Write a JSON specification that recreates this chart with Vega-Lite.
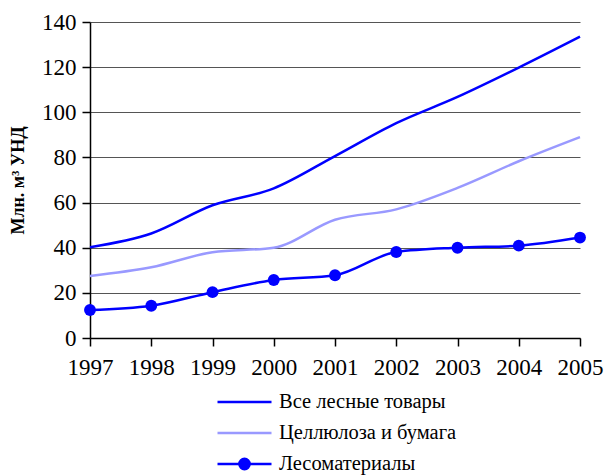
{
  "$schema": "https://vega.github.io/schema/vega-lite/v6.json",
  "autosize": "none",
  "width": 490,
  "height": 316,
  "padding": {"left": 90, "top": 22, "right": 24, "bottom": 138},
  "background": "white",
  "config": {
    "font": "Liberation Serif",
    "view": {"stroke": null}
  },
  "data": {
    "values": [
      {"year": 1997, "series": "Все лесные товары", "value": 40.2},
      {"year": 1998, "series": "Все лесные товары", "value": 46.3},
      {"year": 1999, "series": "Все лесные товары", "value": 58.8},
      {"year": 2000, "series": "Все лесные товары", "value": 66.3},
      {"year": 2001, "series": "Все лесные товары", "value": 80.6},
      {"year": 2002, "series": "Все лесные товары", "value": 95.2},
      {"year": 2003, "series": "Все лесные товары", "value": 106.8},
      {"year": 2004, "series": "Все лесные товары", "value": 119.8},
      {"year": 2005, "series": "Все лесные товары", "value": 133.5},
      {"year": 1997, "series": "Целлюлоза и бумага", "value": 27.5},
      {"year": 1998, "series": "Целлюлоза и бумага", "value": 31.3},
      {"year": 1999, "series": "Целлюлоза и бумага", "value": 38.0},
      {"year": 2000, "series": "Целлюлоза и бумага", "value": 40.0},
      {"year": 2001, "series": "Целлюлоза и бумага", "value": 52.4},
      {"year": 2002, "series": "Целлюлоза и бумага", "value": 57.0},
      {"year": 2003, "series": "Целлюлоза и бумага", "value": 66.5},
      {"year": 2004, "series": "Целлюлоза и бумага", "value": 78.3},
      {"year": 2005, "series": "Целлюлоза и бумага", "value": 89.0},
      {"year": 1997, "series": "Лесоматериалы", "value": 12.4},
      {"year": 1998, "series": "Лесоматериалы", "value": 14.3},
      {"year": 1999, "series": "Лесоматериалы", "value": 20.3},
      {"year": 2000, "series": "Лесоматериалы", "value": 25.7},
      {"year": 2001, "series": "Лесоматериалы", "value": 27.8},
      {"year": 2002, "series": "Лесоматериалы", "value": 38.1},
      {"year": 2003, "series": "Лесоматериалы", "value": 40.0},
      {"year": 2004, "series": "Лесоматериалы", "value": 40.9},
      {"year": 2005, "series": "Лесоматериалы", "value": 44.5}
    ]
  },
  "encoding": {
    "x": {
      "field": "year", "type": "quantitative",
      "scale": {"domain": [1997, 2005], "nice": false, "zero": false},
      "axis": {
        "title": null, "values": [1997, 1998, 1999, 2000, 2001, 2002, 2003, 2004, 2005],
        "format": "d", "grid": false, "labelFontSize": 23, "labelPadding": 10,
        "labelFont": "Liberation Serif", "labelColor": "black",
        "labelOverlap": false, "labelFlush": false,
        "domainColor": "black", "domainWidth": 1.5, "tickColor": "black", "tickWidth": 1.5, "tickSize": 8
      }
    },
    "y": {
      "field": "value", "type": "quantitative",
      "scale": {"domain": [0, 140], "nice": false},
      "axis": {
        "title": "Млн. м³ УНД", "titleFontSize": 18, "titleFontWeight": "bold", "titlePadding": 14,
        "titleFont": "Liberation Serif", "titleColor": "black",
        "labelFont": "Liberation Serif", "labelColor": "black",
        "values": [0, 20, 40, 60, 80, 100, 120, 140], "labelFontSize": 23, "labelPadding": 6,
        "labelFlush": false,
        "grid": true, "gridColor": "#555555", "gridWidth": 1,
        "domainColor": "black", "domainWidth": 1.5, "tickColor": "black", "tickWidth": 1.5, "tickSize": 8
      }
    }
  },
  "layer": [
    {
      "mark": {"type": "line", "interpolate": "monotone", "strokeWidth": 2.5},
      "encoding": {
        "color": {
          "field": "series", "type": "nominal",
          "scale": {"domain": ["Все лесные товары", "Целлюлоза и бумага", "Лесоматериалы"], "range": ["#0000FF", "#9999FF", "#0000FF"]},
          "legend": {
            "title": null, "orient": "none", "legendX": 126, "legendY": 370, "padding": 0,
            "direction": "vertical",
            "symbolType": "stroke", "symbolSize": 2916, "symbolStrokeWidth": 2.5,
            "clipHeight": 20, "rowPadding": 10, "labelOffset": 6,
            "labelFont": "Liberation Serif", "labelFontSize": 20.5, "labelColor": "black", "labelLimit": 400,
            "encode": {
              "symbols": {
                "update": {
                  "shape": {"signal": "datum.value === 'Лесоматериалы' ? 'M-1,0L1,0M-0.19,0A0.19,0.19,0,1,1,0.19,0A0.19,0.19,0,1,1,-0.19,0Z' : 'M-1,0L1,0'"},
                  "fill": {"signal": "datum.value === 'Лесоматериалы' ? '#0000FF' : 'transparent'"}
                }
              }
            }
          }
        },
        "order": {"field": "year"}
      }
    },
    {
      "transform": [{"filter": "datum.series === 'Лесоматериалы'"}],
      "mark": {"type": "point", "filled": true, "shape": "circle", "size": 140, "color": "#0000FF", "opacity": 1}
    }
  ]
}
